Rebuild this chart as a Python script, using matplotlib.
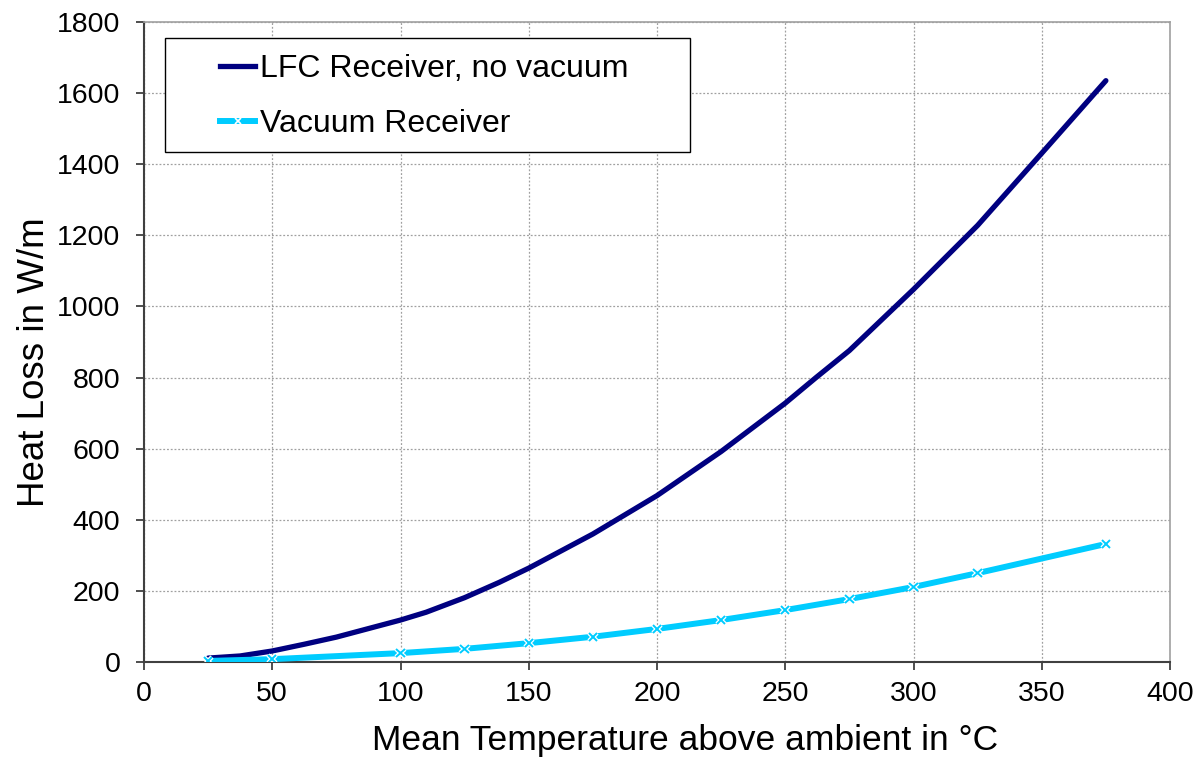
import matplotlib
matplotlib.use("Agg")
import matplotlib.pyplot as plt
import matplotlib.patheffects as pe
from matplotlib.patches import Rectangle
from matplotlib.lines import Line2D

# Data
lfc_temp = [25, 37.5, 50, 62.5, 75, 87.5, 100, 110, 125, 138.5, 150, 175, 200, 225, 250, 262, 275, 300, 325, 350, 375]
lfc_loss = [11, 17, 31, 50, 70, 94, 118, 140, 181, 224, 264, 360, 468, 592, 728, 800, 876, 1048, 1228, 1431, 1635]

vac_temp = [25, 50, 100, 125, 150, 175, 200, 225, 250, 275, 300, 325, 375]
vac_loss = [3, 8, 25, 37, 53, 71, 93, 118, 146, 177, 211, 250, 332]

x_ticks = [0, 50, 100, 150, 200, 250, 300, 350, 400]
y_ticks = [0, 200, 400, 600, 800, 1000, 1200, 1400, 1600, 1800]

series_names = ["LFC Receiver, no vacuum", "Vacuum Receiver"]
x_label = "Mean Temperature above ambient in °C"
y_label = "Heat Loss in W/m"

plt.rcParams['font.family'] = ['Liberation Sans', 'DejaVu Sans']

fig = plt.figure(figsize=(11.98, 7.57), dpi=100)
ax = fig.add_axes([144/1198, 1-662/757, (1170-144)/1198, (662-22)/757])

navy = '#000080'
cyan = '#00CCFF'

ax.plot(lfc_temp, lfc_loss, color=navy, lw=3.8, solid_capstyle='round',
        solid_joinstyle='round', zorder=4)
ax.plot(vac_temp, vac_loss, color=cyan, lw=4.3, solid_capstyle='round',
        solid_joinstyle='round', zorder=5)
ax.plot(vac_temp, vac_loss, ls='none', marker='x', markersize=6, markeredgewidth=1.4,
        markeredgecolor=cyan, zorder=6,
        path_effects=[pe.Stroke(linewidth=3.2, foreground='white'), pe.Normal()])

ax.set_xlim(0, 400)
ax.set_ylim(0, 1800)
ax.set_xticks(x_ticks)
ax.set_yticks(y_ticks)
ax.tick_params(axis='both', direction='out', length=6, width=1.3, color='#404040',
               labelsize=20.5, pad=11)
ax.tick_params(axis='x', pad=8)
ax.grid(True, color='#a0a0a0', ls=(0, (1.5, 1.5)), lw=0.9)
ax.set_axisbelow(True)

for s in ['left', 'bottom']:
    ax.spines[s].set_color('#404040')
    ax.spines[s].set_linewidth(1.5)
for s in ['top', 'right']:
    ax.spines[s].set_color('#a0a0a0')
    ax.spines[s].set_linewidth(1.2)

ax.set_xlabel(x_label, fontsize=25.5)
ax.set_ylabel(y_label, fontsize=26.5)
ax.xaxis.set_label_coords(0.5273, -0.097)
ax.yaxis.set_label_coords(-0.107, 0.469)
ax.xaxis.label.set_verticalalignment('top')
ax.yaxis.label.set_verticalalignment('center')

# legend frame
x0 = (165-144)/1026
x1 = (690-144)/1026
y1 = (662-38)/640
y0 = (662-152)/640
ax.add_patch(Rectangle((x0, y0), x1-x0, y1-y0, transform=ax.transAxes,
                       facecolor='white', edgecolor='black', lw=1.0, zorder=7))

h1 = Line2D([], [], color=navy, lw=3.8)
h2 = Line2D([], [], color=cyan, lw=4.3, marker='x', markersize=5, markeredgewidth=1.2,
            markeredgecolor='white')
leg = ax.legend([h1, h2], series_names, loc='upper left',
                bbox_to_anchor=((222-144)/1026 - 0.008, (662-48)/640),
                frameon=False, fontsize=23, handlelength=1.1, handletextpad=0.15,
                labelspacing=0.78, borderpad=0.2, borderaxespad=0)
leg.set_zorder(8)

fig.savefig('out.png', dpi=100)
